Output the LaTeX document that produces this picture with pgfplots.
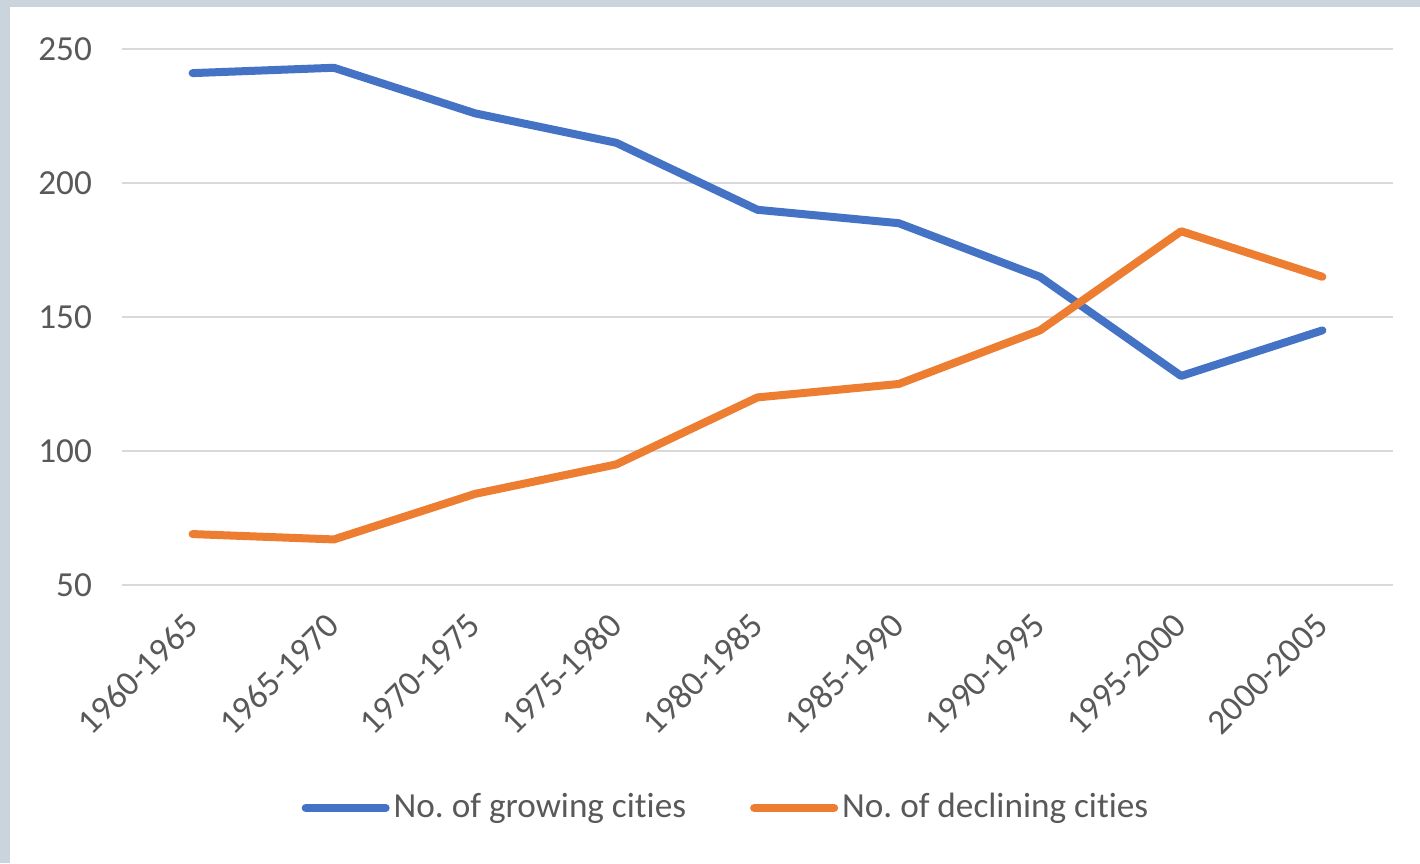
\documentclass[border=0pt]{standalone}
\usepackage{pgfplots}
\pgfplotsset{compat=1.18}
\usepackage{fontspec}
\setmainfont[Ligatures=NoCommon]{Carlito}
\definecolor{bgstrip}{HTML}{C9D4DC}
\definecolor{txt}{HTML}{595959}
\definecolor{gridc}{HTML}{D9D9D9}
\definecolor{cblue}{HTML}{4472C4}
\definecolor{corange}{HTML}{ED7D31}
\begin{document}
\fontsize{17.6pt}{21pt}\selectfont
\begin{tikzpicture}[x=0.5pt,y=0.5pt]
\fill[white] (0,0) rectangle (1420,863);
\fill[bgstrip] (0,0) rectangle (10,863);
\fill[bgstrip] (0,856) rectangle (1420,863);
\begin{axis}[
  at={(61pt,139pt)}, anchor=south west,
  scale only axis, width=635.5pt, height=268pt,
  xmin=-0.5, xmax=8.5, ymin=50, ymax=250,
  xtick={0,...,8},
  xticklabels={1960-1965,1965-1970,1970-1975,1975-1980,1980-1985,1985-1990,1990-1995,1995-2000,2000-2005},
  ytick={50,100,...,250},
  axis line style={draw=none},
  major tick length=0pt,
  ymajorgrids, grid style={gridc, line width=1.2pt},
  tick label style={text=txt, font=\fontsize{17.6pt}{21pt}\selectfont},
  /pgf/number format/assume math mode=true,
  xticklabel style={xshift=4pt, yshift=-13pt, rotate=45, anchor=east},
  yticklabel style={anchor=east, xshift=-9pt},
  legend style={at={(0.476,-0.416)}, anchor=center, draw=none, fill=none,
    legend columns=2, font=\fontsize{17.6pt}{21pt}\selectfont, text=txt,
    nodes={inner xsep=2pt}},
  legend cell align=left,
  /tikz/every even column/.append style={column sep=30pt},
  legend image code/.code={\draw[#1, line cap=round] (0pt,0pt) -- (40pt,0pt);},
  clip=false,
]
\addplot[cblue, line width=4pt, line cap=round, line join=round] coordinates {
 (0,241) (1,243) (2,226) (3,215) (4,190) (5,185) (6,165) (7,128) (8,145)};
\addlegendentry{No.\ of growing cities}
\addplot[corange, line width=4pt, line cap=round, line join=round] coordinates {
 (0,69) (1,67) (2,84) (3,95) (4,120) (5,125) (6,145) (7,182) (8,165)};
\addlegendentry{No.\ of declining cities}
\end{axis}
\end{tikzpicture}
\end{document}
